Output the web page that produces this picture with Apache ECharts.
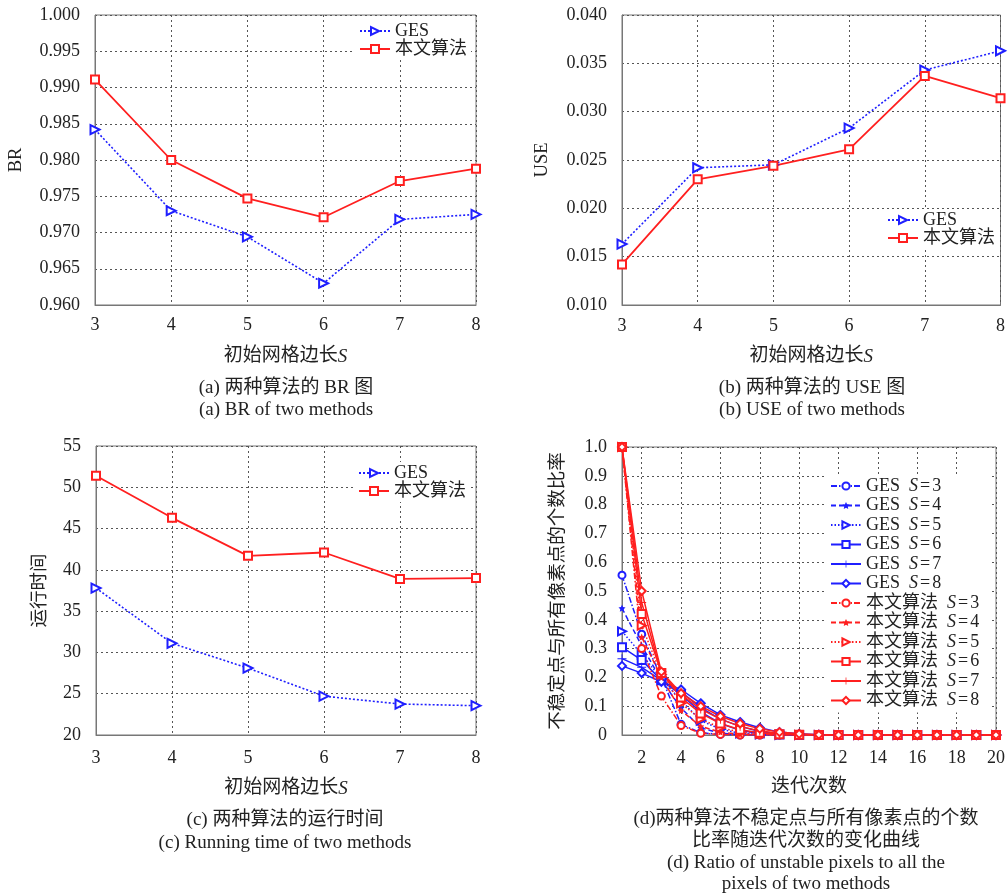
<!DOCTYPE html>
<html>
<head>
<meta charset="utf-8">
<script src="https://cdn.jsdelivr.net/npm/echarts@6/dist/echarts.min.js"></script>
<style>
  html, body { margin: 0; padding: 0; background: #fff; }
  #main { width: 1008px; height: 895px; }
</style>
</head>
<body>
<div id="main"></div>
<script>
// 初始网格边长 S
const sizeS = [3, 4, 5, 6, 7, 8];
// (a) BR
const brGES = [0.9842, 0.9730, 0.9694, 0.9630, 0.9718, 0.9725];
const brOurs = [0.9911, 0.9800, 0.9747, 0.9721, 0.9771, 0.9788];
// (b) USE
const useGES = [0.0163, 0.0242, 0.0245, 0.0283, 0.0343, 0.0363];
const useOurs = [0.0142, 0.0230, 0.0244, 0.0261, 0.0337, 0.0314];
// (c) 运行时间
const timeGES = [37.8, 31.1, 28.1, 24.7, 23.75, 23.55];
const timeOurs = [51.4, 46.3, 41.7, 42.1, 38.9, 39.0];
// (d) 迭代次数 & 比率
const iters = ['1', '2', '3', '4', '5', '6', '7', '8', '9', '10', '11', '12', '13', '14', '15', '16', '17', '18', '19', '20'];
const gesS3 = [0.555, 0.35, 0.20, 0.037, 0.008, 0.002, 0, 0, 0, 0, 0, 0, 0, 0, 0, 0, 0, 0, 0, 0];
const gesS4 = [0.44, 0.31, 0.19, 0.094, 0.025, 0.006, 0.002, 0, 0, 0, 0, 0, 0, 0, 0, 0, 0, 0, 0, 0];
const gesS5 = [0.36, 0.28, 0.195, 0.12, 0.05, 0.02, 0.006, 0.002, 0, 0, 0, 0, 0, 0, 0, 0, 0, 0, 0, 0];
const gesS6 = [0.305, 0.26, 0.19, 0.14, 0.08, 0.04, 0.016, 0.005, 0.002, 0, 0, 0, 0, 0, 0, 0, 0, 0, 0, 0];
const gesS7 = [0.265, 0.235, 0.19, 0.15, 0.095, 0.055, 0.03, 0.012, 0.004, 0.001, 0, 0, 0, 0, 0, 0, 0, 0, 0, 0];
const gesS8 = [0.24, 0.215, 0.185, 0.158, 0.11, 0.07, 0.045, 0.025, 0.01, 0.004, 0.001, 0, 0, 0, 0, 0, 0, 0, 0, 0];
const oursS3 = [1.0, 0.30, 0.135, 0.033, 0.006, 0.002, 0, 0, 0, 0, 0, 0, 0, 0, 0, 0, 0, 0, 0, 0];
const oursS4 = [1.0, 0.34, 0.20, 0.085, 0.03, 0.01, 0.003, 0.001, 0, 0, 0, 0, 0, 0, 0, 0, 0, 0, 0, 0];
const oursS5 = [1.0, 0.38, 0.21, 0.11, 0.055, 0.025, 0.01, 0.004, 0.001, 0, 0, 0, 0, 0, 0, 0, 0, 0, 0, 0];
const oursS6 = [1.0, 0.42, 0.215, 0.13, 0.075, 0.04, 0.018, 0.008, 0.003, 0.001, 0, 0, 0, 0, 0, 0, 0, 0, 0, 0];
const oursS7 = [1.0, 0.46, 0.215, 0.14, 0.09, 0.055, 0.03, 0.014, 0.006, 0.002, 0.001, 0, 0, 0, 0, 0, 0, 0, 0, 0];
const oursS8 = [1.0, 0.50, 0.22, 0.145, 0.10, 0.065, 0.04, 0.022, 0.01, 0.004, 0.001, 0, 0, 0, 0, 0, 0, 0, 0, 0];

const FONT = "'Liberation Serif', 'Noto Sans CJK SC', serif";
const BLUE = '#1f1fff';
const RED = '#ff1f1f';
const TXT = '#222';
const italic = { i: { fontStyle: 'italic', fontFamily: 'Liberation Serif', fontSize: 19, color: TXT } };

let chart = echarts.init(document.getElementById('main'));

// 公共坐标轴样式
function yAxisOf(idx, min, max, interval, name, gap, fmt) {
  return {
    gridIndex: idx, type: 'value', min: min, max: max, interval: interval,
    name: name, nameLocation: 'middle', nameGap: gap,
    nameTextStyle: { fontFamily: FONT, fontSize: 18.5, color: TXT },
    axisLine: { show: true, lineStyle: { color: '#777' } },
    axisTick: { show: false },
    axisLabel: { margin: 15, fontFamily: FONT, fontSize: 18, color: TXT, formatter: fmt },
    splitLine: { show: true, lineStyle: { color: '#555', type: [2, 3], width: 1 } }
  };
}
function xAxisOf(idx, gap, margin) {
  return {
    gridIndex: idx, type: 'value', min: 3, max: 8, interval: 1,
    name: '初始网格边长{i|S}', nameLocation: 'middle', nameGap: gap,
    nameTextStyle: { fontFamily: FONT, fontSize: 19, color: TXT, rich: italic },
    axisLine: { show: true, lineStyle: { color: '#777' } },
    axisTick: { show: false },
    axisLabel: { margin: margin, fontFamily: FONT, fontSize: 18, color: TXT },
    splitLine: { show: true, lineStyle: { color: '#555', type: [2, 3], width: 1 } }
  };
}
function pairSeries(idx, ges, ours) {
  return [
    {
      name: 'GES', type: 'line', xAxisIndex: idx, yAxisIndex: idx,
      data: sizeS.map((s, i) => [s, ges[i]]),
      symbol: 'emptyTriangle', symbolRotate: -90, symbolSize: 9,
      lineStyle: { color: BLUE, width: 1.6, type: [2, 2] },
      itemStyle: { color: BLUE, borderWidth: 1.5 }
    },
    {
      name: '本文算法', type: 'line', xAxisIndex: idx, yAxisIndex: idx,
      data: sizeS.map((s, i) => [s, ours[i]]),
      symbol: 'emptyRect', symbolSize: 8,
      lineStyle: { color: RED, width: 1.8 },
      itemStyle: { color: RED, borderWidth: 1.5 }
    }
  ];
}
function legendOf(idx, left, top) {
  return {
    orient: 'vertical', left: left, top: top,
    data: ['GES', '本文算法'],
    backgroundColor: '#fff', padding: [2, 4, 2, 4],
    itemWidth: 30, itemHeight: 10, itemGap: 0,
    textStyle: { fontFamily: FONT, fontSize: 18, color: TXT, lineHeight: 18 }
  };
}

const starPath = 'path://M0,-10L2.9,-4L9.5,-3.1L4.7,1.5L5.9,8.1L0,5L-5.9,8.1L-4.7,1.5L-9.5,-3.1L-2.9,-4Z';
const plusPath = 'path://M-1,-10H1V-1H10V1H1V10H-1V1H-10V-1H-1Z';
const dMarks = [
  { sym: 'emptyCircle', size: 7, dash: [6, 2, 1.5, 2], rot: 0 },
  { sym: starPath, size: 7, dash: [5, 3], rot: 0 },
  { sym: 'emptyTriangle', size: 8, dash: [1.5, 2], rot: -90 },
  { sym: 'emptyRect', size: 8, dash: 'solid', rot: 0 },
  { sym: plusPath, size: 9, dash: 'solid', rot: 0 },
  { sym: 'emptyDiamond', size: 8, dash: 'solid', rot: 0 }
];
const gesD = [gesS3, gesS4, gesS5, gesS6, gesS7, gesS8];
const oursD = [oursS3, oursS4, oursS5, oursS6, oursS7, oursS8];

let dSeries = [];
let dNames = [];
[['GES', gesD, BLUE], ['本文算法', oursD, RED]].forEach(function (grp) {
  grp[1].forEach(function (arr, k) {
    let m = dMarks[k];
    let nm = grp[0] + ' S=' + sizeS[k];
    dNames.push(nm);
    dSeries.push({
      name: nm, type: 'line', xAxisIndex: 3, yAxisIndex: 3,
      data: arr,
      symbol: m.sym, symbolSize: m.size, symbolRotate: m.rot,
      lineStyle: { color: grp[2], width: 1.5, type: m.dash },
      itemStyle: { color: grp[2], borderWidth: 1.3 }
    });
  });
});

function caption(x, y, text) {
  return {
    type: 'text', x: x, y: y, silent: true,
    style: {
      text: text, fill: TXT, font: "19px 'Liberation Serif', 'Noto Sans CJK SC', serif",
      align: 'center', verticalAlign: 'middle', textAlign: 'center', textVerticalAlign: 'middle'
    }
  };
}

let option = {
  backgroundColor: '#fff',
  animation: false,
  grid: [
    { left: 95, top: 15, width: 381, height: 290, show: true, borderColor: '#777', borderWidth: 1 },
    { left: 622, top: 15, width: 380, height: 290, show: true, borderColor: '#777', borderWidth: 1 },
    { left: 96, top: 446, width: 380, height: 289, show: true, borderColor: '#777', borderWidth: 1 },
    { left: 622, top: 447, width: 380, height: 288, show: true, borderColor: '#777', borderWidth: 1 }
  ],
  xAxis: [
    xAxisOf(0, 42, 11),
    xAxisOf(1, 42, 12),
    xAxisOf(2, 44, 14),
    {
      gridIndex: 3, type: 'category', data: iters, boundaryGap: false,
      name: '迭代次数', nameLocation: 'middle', nameGap: 43,
      nameTextStyle: { fontFamily: FONT, fontSize: 19, color: TXT },
      axisLine: { show: true, lineStyle: { color: '#777' } },
      axisTick: { show: false },
      axisLabel: { margin: 14, fontFamily: FONT, fontSize: 18, color: TXT, interval: (i) => (i + 1) % 2 === 0 },
      splitLine: { show: true, interval: (i) => (i + 1) % 2 === 0, lineStyle: { color: '#555', type: [2, 3], width: 1 } }
    }
  ],
  yAxis: [
    yAxisOf(0, 0.96, 1.0, 0.005, 'BR', 70, (v) => v.toFixed(3)),
    yAxisOf(1, 0.01, 0.04, 0.005, 'USE', 71, (v) => v.toFixed(3)),
    yAxisOf(2, 20, 55, 5, '运行时间', 47, (v) => String(Math.round(v))),
    yAxisOf(3, 0, 1, 0.1, '不稳定点与所有像素点的个数比率', 55, (v) => (v === 0 ? '0' : v.toFixed(1)))
  ],
  legend: [
    legendOf(0, 355, 20),
    legendOf(1, 883, 209),
    legendOf(2, 354, 462),
    {
      orient: 'vertical', left: 826, top: 474,
      data: dNames,
      backgroundColor: '#fff', padding: [3, 10, 3, 4],
      itemWidth: 30, itemHeight: 9, itemGap: 1.5,
      formatter: (n) => n.replace(' S=', '  {i|S}{e|=}'),
      textStyle: {
        fontFamily: FONT, fontSize: 18, color: TXT, lineHeight: 18,
        rich: {
          i: { fontStyle: 'italic', fontFamily: 'Liberation Serif', fontSize: 18, color: TXT },
          e: { fontFamily: 'Liberation Serif', fontSize: 18, color: TXT, padding: [0, 2, 0, 2] }
        }
      }
    }
  ],
  graphic: [
    caption(286, 388, '(a) 两种算法的 BR 图'),
    caption(286, 410, '(a) BR of two methods'),
    caption(812, 388, '(b) 两种算法的 USE 图'),
    caption(812, 410, '(b) USE of two methods'),
    caption(285, 820, '(c) 两种算法的运行时间'),
    caption(285, 843, '(c) Running time of two methods'),
    caption(806, 819, '(d)两种算法不稳定点与所有像素点的个数'),
    caption(806, 841, '比率随迭代次数的变化曲线'),
    caption(806, 863, '(d) Ratio of unstable pixels to all the'),
    caption(806, 884, 'pixels of two methods')
  ],
  series: [].concat(
    pairSeries(0, brGES, brOurs),
    pairSeries(1, useGES, useOurs),
    pairSeries(2, timeGES, timeOurs),
    dSeries
  )
};

chart.setOption(option);
</script>
</body>
</html>
